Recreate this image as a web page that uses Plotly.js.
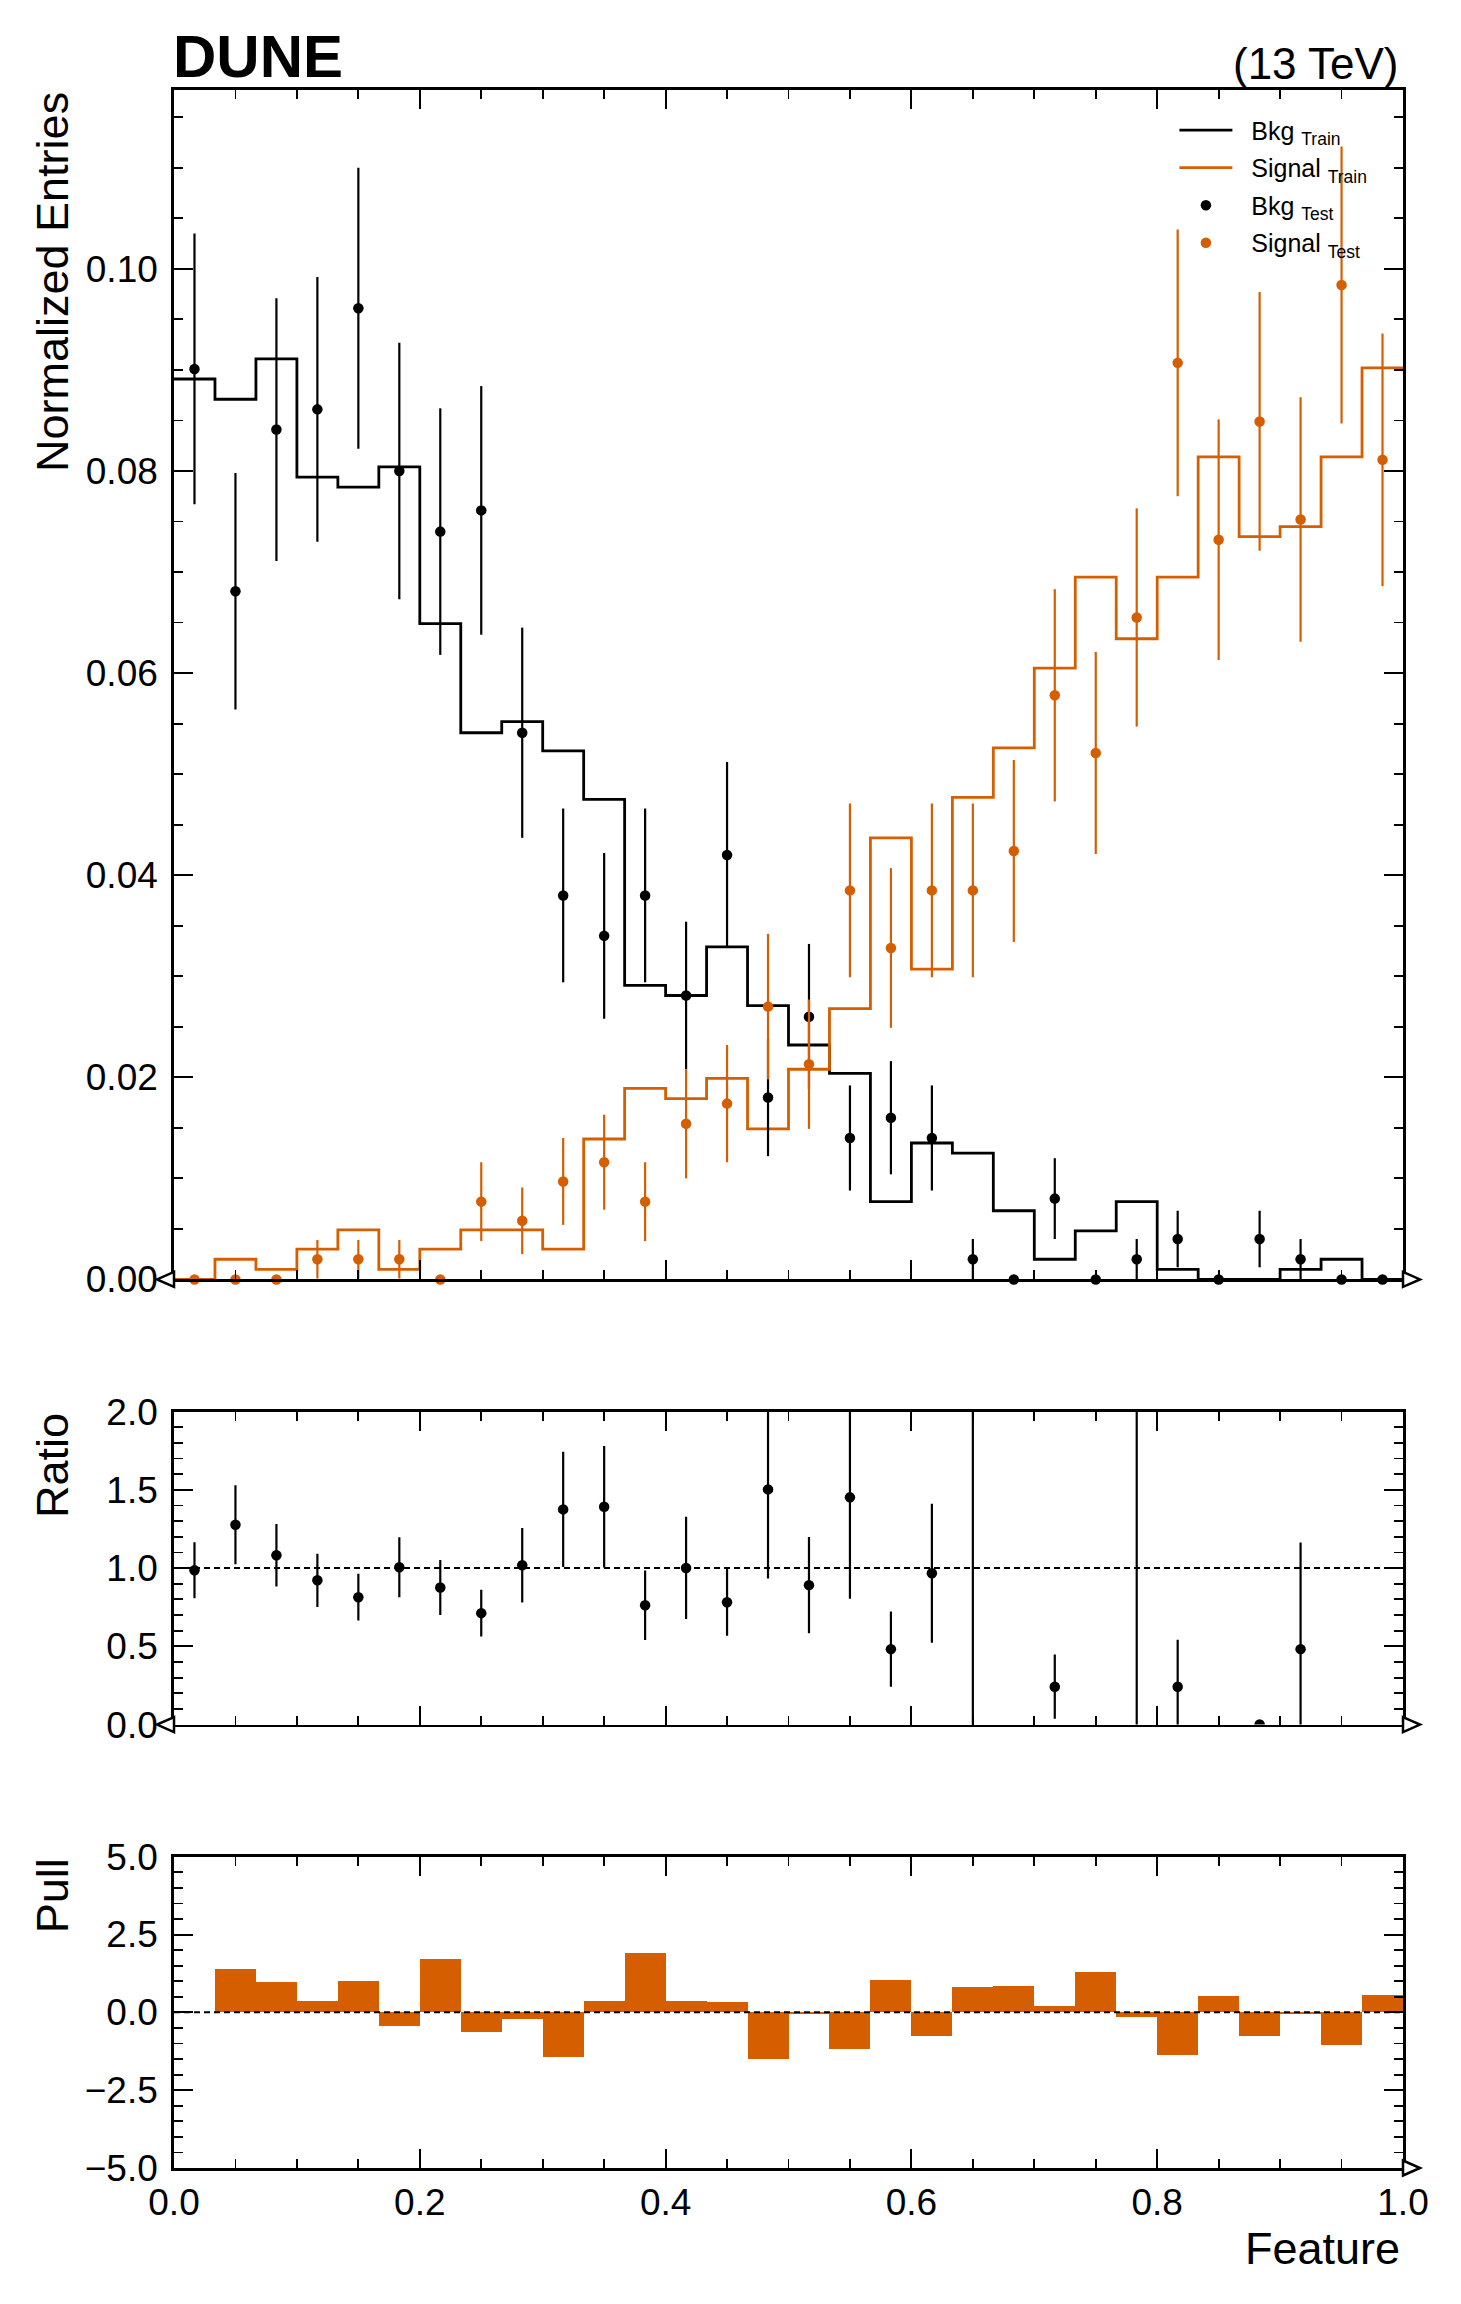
<!DOCTYPE html>
<html>
<head>
<meta charset="utf-8">
<script src="https://cdn.plot.ly/plotly-3.0.1.min.js"></script>
<style>html,body{margin:0;padding:0;background:#fff;}</style>
</head>
<body>
<div id="chart" style="width:1461px;height:2304px;"></div>
<script>
// ---- data (30 equal bins on [0,1]) ----
const nBins = 30;
const bkgTrain = [0.0891,0.0871,0.0911,0.0794,0.0784,0.0804,0.0649,0.0541,0.0552,0.0523,
                  0.0475,0.0291,0.0281,0.0329,0.0271,0.0232,0.0204,0.0077,0.0135,0.0125,
                  0.0068,0.0020,0.0048,0.0077,0.0010,0.0,0.0,0.0010,0.0020,0.0];
const sigTrain = [0.0,0.0020,0.0010,0.0030,0.0049,0.0010,0.0030,0.0049,0.0049,0.0030,
                  0.0139,0.0189,0.0179,0.0199,0.0149,0.0208,0.0268,0.0437,0.0307,0.0477,
                  0.0526,0.0605,0.0695,0.0634,0.0695,0.0814,0.0735,0.0745,0.0814,0.0902];
const bkgTest = [0.0901,0.0681,0.0841,0.0861,0.0961,0.0800,0.0740,0.0761,0.0541,0.0380,
                 0.0340,0.0380,0.0281,0.0420,0.0180,0.0260,0.0140,0.0160,0.0140,0.0020,
                 0.0,0.0080,0.0,0.0020,0.0040,0.0,0.0040,0.0020,0.0,0.0];
const bkgTestErr = [0.0134,0.0117,0.0130,0.0131,0.0139,0.0127,0.0122,0.0123,0.0104,0.0086,
                    0.0082,0.0086,0.0073,0.0092,0.0058,0.0072,0.0052,0.0056,0.0052,0.0020,
                    0.0,0.0040,0.0,0.0020,0.0028,0.0,0.0028,0.0020,0.0,0.0];
const sigTest = [0.0,0.0,0.0,0.0020,0.0020,0.0020,0.0,0.0077,0.0058,0.0097,
                 0.0116,0.0077,0.0154,0.0174,0.0270,0.0213,0.0385,0.0328,0.0385,0.0385,
                 0.0424,0.0578,0.0521,0.0655,0.0907,0.0732,0.0849,0.0752,0.0984,0.0811];
const sigTestErr = [0.0,0.0,0.0,0.0019,0.0019,0.0019,0.0,0.0039,0.0033,0.0043,
                    0.0047,0.0039,0.0054,0.0058,0.0072,0.0064,0.0086,0.0079,0.0086,0.0086,
                    0.0090,0.0105,0.0100,0.0108,0.0132,0.0119,0.0128,0.0121,0.0137,0.0125];
const ratio = [0.986,1.277,1.082,0.922,0.814,1.005,0.876,0.712,1.018,1.375,
               1.392,0.763,1.001,0.782,1.503,0.891,1.452,0.482,0.967,3.0,
               null,0.242,null,3.0,0.242,null,0.0,0.482,null,null];
const ratioErr = [0.179,0.253,0.199,0.170,0.149,0.192,0.176,0.149,0.238,0.368,
                  0.389,0.222,0.327,0.215,0.570,0.308,0.648,0.241,0.444,3.5,
                  0,0.205,0,3.5,0.300,0,0.0,0.682,0,0];
const pull = [0.0,1.40,0.99,0.38,1.02,-0.44,1.72,-0.64,-0.22,-1.42,
              0.38,1.91,0.35,0.32,-1.50,-0.05,-1.17,1.05,-0.75,0.80,
              0.86,0.19,1.31,-0.15,-1.36,0.54,-0.75,-0.05,-1.04,0.57];
const xTickVals = [0.0,0.2,0.4,0.6,0.8,1.0];

// ---- derived bin geometry ----
const binW = 1 / nBins;
const edges = Array.from({length: nBins + 1}, (_, i) => i * binW);
const centers = edges.slice(0, nBins).map(e => e + binW / 2);
const stepY = arr => arr.concat([arr[arr.length - 1]]);

const ORANGE = '#d55e00';
const FONT = 'Liberation Sans, Arial, Helvetica, sans-serif';
const NB = '\u00a0\u00a0';

const traces = [
  {x: edges, y: stepY(bkgTrain), type: 'scatter', mode: 'lines', line: {shape: 'hv', color: 'black', width: 2.8},
   name: NB + 'Bkg <sub>Train</sub>', legendgroup: 'a', xaxis: 'x', yaxis: 'y'},
  {x: edges, y: stepY(sigTrain), type: 'scatter', mode: 'lines', line: {shape: 'hv', color: ORANGE, width: 2.8},
   name: NB + 'Signal <sub>Train</sub>', legendgroup: 'b', xaxis: 'x', yaxis: 'y'},
  {x: centers, y: bkgTest, type: 'scatter', mode: 'markers', marker: {color: 'black', size: 10.5},
   error_y: {type: 'data', array: bkgTestErr, thickness: 2.2, width: 0, color: 'black'},
   name: NB + 'Bkg <sub>Test</sub>', legendgroup: 'c', xaxis: 'x', yaxis: 'y', cliponaxis: false},
  {x: centers, y: sigTest, type: 'scatter', mode: 'markers', marker: {color: ORANGE, size: 10.5},
   error_y: {type: 'data', array: sigTestErr, thickness: 2.2, width: 0, color: ORANGE},
   name: NB + 'Signal <sub>Test</sub>', legendgroup: 'd', xaxis: 'x', yaxis: 'y', cliponaxis: false},
  {x: centers, y: ratio, type: 'scatter', mode: 'markers', marker: {color: 'black', size: 10.5},
   error_y: {type: 'data', array: ratioErr, thickness: 2.2, width: 0, color: 'black'},
   showlegend: false, xaxis: 'x2', yaxis: 'y2'},
  {x: centers, y: pull, type: 'bar', width: binW, marker: {color: ORANGE, line: {width: 0}},
   showlegend: false, xaxis: 'x3', yaxis: 'y3'}
];

const axBase = {
  showline: true, linecolor: 'black', linewidth: 2.8, mirror: 'allticks',
  ticks: 'inside', ticklen: 19, tickwidth: 2, tickcolor: 'black',
  showgrid: false, zeroline: false,
  tickfont: {family: FONT, size: 37, color: 'black'},
  minor: {ticks: 'inside', ticklen: 9, tickwidth: 1.8, tickcolor: 'black', showgrid: false}
};
const xBase = Object.assign({}, axBase, {range: [0, 1], tickmode: 'array', tickvals: xTickVals,
  minor: Object.assign({}, axBase.minor, {dtick: 0.05, tick0: 0})});
const yBase = Object.assign({}, axBase, {ticklabelstandoff: 6});

// hollow arrow-head decorations at axis ends (pixel-sized, anchored on domain corners)
function arrowHead(ax, side) {
  const p = side === 'left' ? 'M0,-7.5 L-17,0 L0,7.5 Z' : 'M0,-7.5 L17,0 L0,7.5 Z';
  return {type: 'path', xref: ax[0] + ' domain', yref: ax[1] + ' domain',
          xsizemode: 'pixel', ysizemode: 'pixel', xanchor: side === 'left' ? 0 : 1, yanchor: 0,
          path: p, line: {color: 'black', width: 2.5}, fillcolor: 'white', layer: 'above'};
}

const layout = {
  width: 1461, height: 2304,
  margin: {l: 174, r: 58, t: 90, b: 136},
  paper_bgcolor: 'white', plot_bgcolor: 'white',
  font: {family: FONT, color: 'black', size: 37},
  bargap: 0,
  showlegend: true,
  legend: {x: 0.814, y: 0.9916, xanchor: 'left', yanchor: 'top', bgcolor: 'rgba(0,0,0,0)',
           font: {family: FONT, size: 25, color: 'black'}, traceorder: 'grouped', tracegroupgap: 2, itemwidth: 53},
  xaxis: Object.assign({}, xBase, {anchor: 'y', showticklabels: false}),
  yaxis: Object.assign({}, yBase, {domain: [0.4276, 1], range: [0, 0.1177], tick0: 0, dtick: 0.02, tickformat: '.2f',
    minor: Object.assign({}, axBase.minor, {dtick: 0.005, tick0: 0}), anchor: 'x'}),
  xaxis2: Object.assign({}, xBase, {anchor: 'y2', showticklabels: false}),
  yaxis2: Object.assign({}, yBase, {domain: [0.2134, 0.3640], range: [0, 2], tick0: 0, dtick: 0.5, tickformat: '.1f',
    minor: Object.assign({}, axBase.minor, {dtick: 0.1, tick0: 0}), anchor: 'x2'}),
  xaxis3: Object.assign({}, xBase, {anchor: 'y3', showticklabels: true, tickformat: '.1f'}),
  yaxis3: Object.assign({}, yBase, {domain: [0, 0.1498], range: [-5, 5], tick0: -5, dtick: 2.5, tickformat: '.1f',
    minor: Object.assign({}, axBase.minor, {dtick: 0.5, tick0: 0}), anchor: 'x3'}),
  shapes: [
    {type: 'line', xref: 'x2', yref: 'y2', x0: 0, x1: 1, y0: 1, y1: 1, line: {color: 'black', width: 2, dash: '6px,4px'}},
    {type: 'line', xref: 'x3', yref: 'y3', x0: 0, x1: 1, y0: 0, y1: 0, line: {color: 'black', width: 2, dash: '6px,4px'}},
    arrowHead(['x', 'y'], 'left'), arrowHead(['x', 'y'], 'right'),
    arrowHead(['x2', 'y2'], 'left'), arrowHead(['x2', 'y2'], 'right'),
    arrowHead(['x3', 'y3'], 'right')
  ],
  annotations: [
    {text: '<b>DUNE</b>', xref: 'x domain', yref: 'y domain', x: 0, y: 1, xanchor: 'left', yanchor: 'bottom',
     showarrow: false, font: {family: FONT, size: 60, color: 'black'}, yshift: -2, xshift: -3},
    {text: '(13 TeV)', xref: 'x domain', yref: 'y domain', x: 1, y: 1, xanchor: 'right', yanchor: 'bottom',
     showarrow: false, font: {family: FONT, size: 44, color: 'black'}, yshift: 0, xshift: -2},
    {text: 'Normalized Entries', xref: 'x domain', yref: 'y domain', x: 0, y: 1, xanchor: 'center', yanchor: 'top',
     textangle: -90, xshift: -122, showarrow: false, font: {family: FONT, size: 45, color: 'black'}},
    {text: 'Ratio', xref: 'x2 domain', yref: 'y2 domain', x: 0, y: 1, xanchor: 'center', yanchor: 'top',
     textangle: -90, xshift: -122, showarrow: false, font: {family: FONT, size: 45, color: 'black'}},
    {text: 'Pull', xref: 'x3 domain', yref: 'y3 domain', x: 0, y: 1, xanchor: 'center', yanchor: 'top',
     textangle: -90, xshift: -122, showarrow: false, font: {family: FONT, size: 45, color: 'black'}},
    {text: 'Feature', xref: 'x3 domain', yref: 'y3 domain', x: 1, y: 0, xanchor: 'right', yanchor: 'middle',
     yshift: -80, xshift: -1, showarrow: false, font: {family: FONT, size: 45, color: 'black'}}
  ]
};

Plotly.newPlot('chart', traces, layout, {staticPlot: true, displayModeBar: false});
</script>
</body>
</html>
